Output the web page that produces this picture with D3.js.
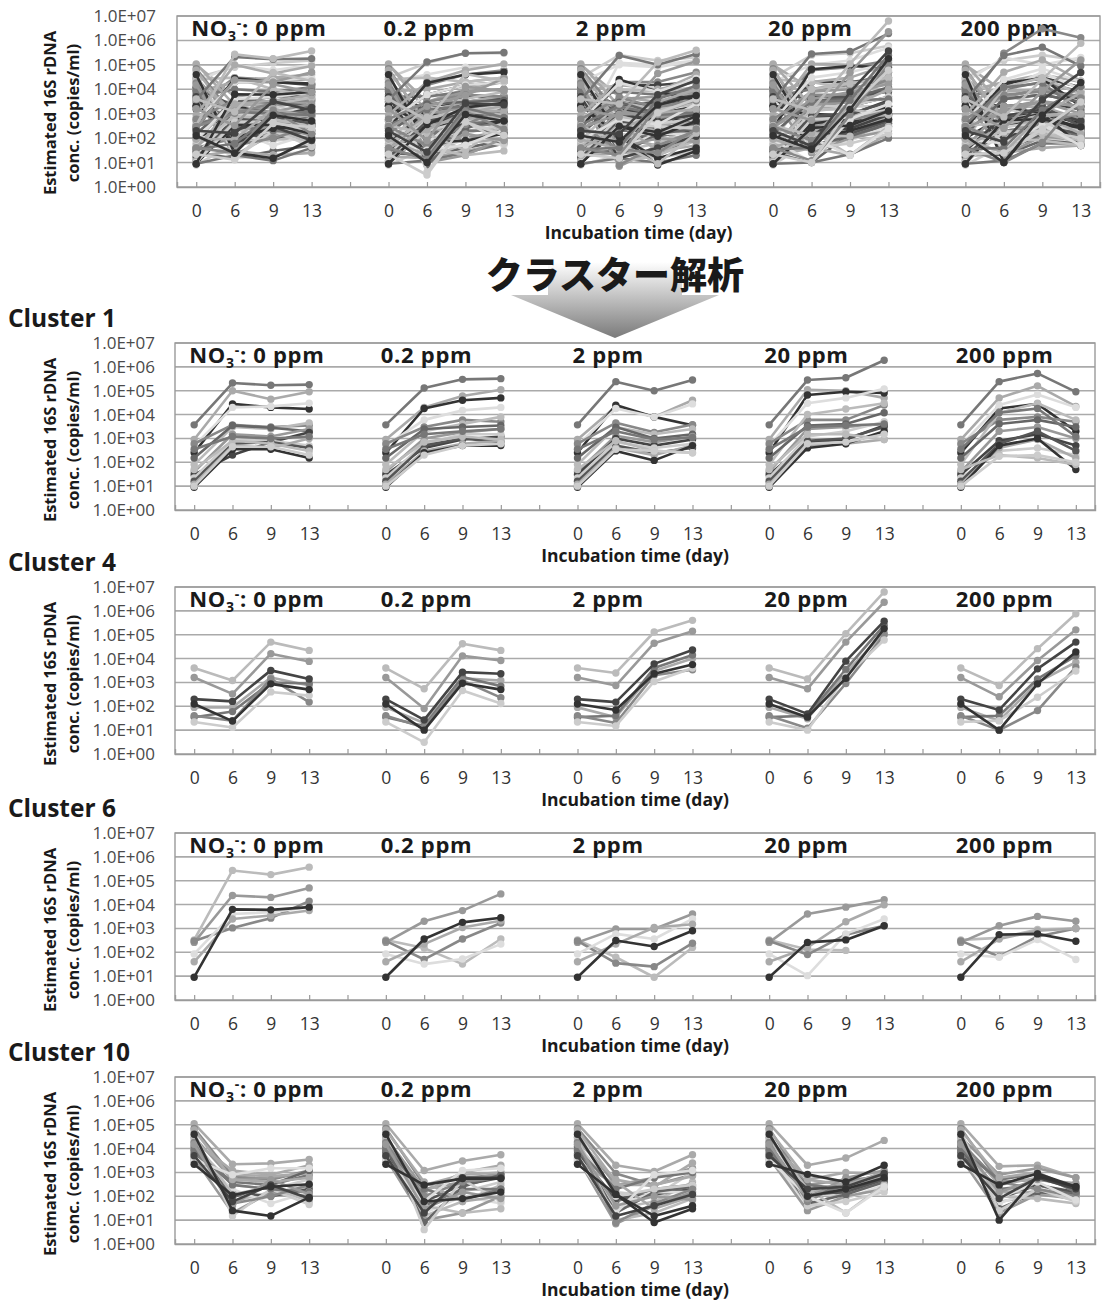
<!DOCTYPE html>
<html><head><meta charset="utf-8">
<script src="https://cdn.jsdelivr.net/npm/d3@7"></script>
<style>body{margin:0;background:#fff}svg{display:block}</style>
</head><body>
<svg id="chart" width="1102" height="1302"></svg>
<script>
// ---------- labels ----------
const groupLabels = ["0 ppm", "0.2 ppm", "2 ppm", "20 ppm", "200 ppm"];
const dayLabels = ["0", "6", "9", "13"];
const yTickValues = [1, 10, 100, 1e3, 1e4, 1e5, 1e6, 1e7];
const clusterTitles = ["Cluster 1", "Cluster 4", "Cluster 6", "Cluster 10"];
const yTitle = ["Estimated 16S rDNA", "conc. (copies/ml)"];
const xTitle = "Incubation time (day)";
const mainTitle = "クラスター解析";

// ---------- data: each row = 5 NO3 levels x days [0,6,9,13] ----------
const cluster1 = [
  [3700,2.1e5,1.7e5,1.8e5, 3700,1.3e5,3e5,3.2e5, 3700,2.4e5,1e5,2.8e5, 3700,2.8e5,3.5e5,1.9e6, 3700,2.4e5,5.3e5,9e4],
  [900,1e5,4.4e4,9e4, 900,2e4,6e4,1.1e5, 900,2.2e4,8e3,4e4, 900,1.1e5,1e5,5e4, 900,5e4,1.6e5,2.2e4],
  [250,2.8e4,2e4,1.7e4, 250,1.8e4,4e4,5e4, 250,2.5e4,8e3,3.6e3, 250,6.6e4,9e4,8e4, 250,1.8e4,2.8e4,2e3],
  [500,2e4,2.2e4,3e4, 500,6e3,1.5e4,2e4, 500,1.8e4,8e3,2.8e4, 500,3e4,5e4,1.2e5, 500,2.5e4,7e4,2e4],
  [600,3.7e3,3e3,3.5e3, 600,3e3,6e3,5e3, 600,4.5e3,1.8e3,3.8e3, 600,6e3,6e3,2.5e4, 600,6e3,8e3,5e3],
  [80,3e3,2.5e3,4.5e3, 80,2e3,4e3,8e3, 80,3e3,1.5e3,2.5e3, 80,1e4,1.7e4,3e4, 80,1.2e4,3e4,6e3],
  [150,3.5e3,2.8e3,2e3, 150,2.5e3,3e3,3.5e3, 150,3e3,1e3,1.5e3, 150,3.5e3,4e3,1.2e4, 150,4e3,6e3,3e3],
  [40,1.5e3,1.2e3,2.5e3, 40,1e3,1.8e3,2.5e3, 40,1.3e3,700,1.2e3, 40,2.5e3,3e3,4e3, 40,2e3,3e3,1e3],
  [30,200,700,1.8e3, 30,400,900,1.2e3, 30,1e3,500,900, 30,700,900,3.5e3, 30,800,1.5e3,500],
  [22,900,800,500, 22,600,1.5e3,1.5e3, 22,700,400,600, 22,1.2e3,2e3,5e3, 22,300,400,200],
  [16,600,700,400, 16,500,1e3,700, 16,500,250,400, 16,800,1e3,3e3, 16,600,2e3,300],
  [12,500,400,1e3, 12,300,600,800, 12,400,200,500, 12,500,600,900, 12,400,900,150],
  [9,350,350,150, 9,250,500,500, 9,300,120,500, 9,400,600,2e3, 9,500,1e3,50],
  [50,800,600,300, 50,700,1.2e3,900, 50,800,300,250, 50,1.5e3,1.5e3,900, 50,200,150,80],
  [350,1.2e3,1e3,1.2e3, 350,1.5e3,2e3,2.5e3, 350,2e3,900,1.1e3, 350,3e3,3.5e3,4e3, 350,1.2e4,1.8e4,1.2e3],
  [10,450,450,200, 10,200,500,600, 10,350,300,250, 10,600,700,1.5e3, 10,180,200,100]
];
const cluster1Grays = ["#777","#aaa","#333","#ddd","#888","#bbb","#666","#999","#444","#ccc","#555","#aaa","#333","#bbb","#777","#ccc"];

const cluster4 = [
  [4000,1200,4.9e4,2.2e4, 4000,540,4.2e4,2.2e4, 4000,2500,1.3e5,4e5, 4000,1400,1.1e5,6.2e6, 4000,740,2.6e4,7.6e5],
  [1600,330,1.6e4,7.6e3, 1600,80,1.3e4,8.3e3, 1600,740,4.4e4,1.4e5, 1600,540,4.9e4,2.3e6, 1600,250,8.3e3,1.6e5],
  [90,90,1.6e3,740, 90,20,1.5e3,1.2e3, 90,35,3e3,1e4, 90,30,2.5e3,1.2e5, 90,25,1e3,7e3],
  [35,60,1e3,900, 35,15,1.7e3,700, 35,40,4e3,1.4e4, 35,40,3.5e3,2.5e5, 35,40,1.4e3,1.3e4],
  [40,25,1.4e3,150, 40,13,1.2e3,230, 40,20,2e3,3.4e3, 40,12,900,1e5, 40,10,66,4.4e3],
  [22,13,400,280, 22,3.1,460,130, 22,15,1.1e3,4e3, 22,10,1.8e3,6e4, 22,25,240,3e3],
  [200,160,3.2e3,1.4e3, 200,27,2.7e3,2.3e3, 200,150,6e3,2.3e4, 200,48,7.8e3,3.7e5, 200,70,3.7e3,4.9e4],
  [125,24,870,500, 125,10,930,500, 125,70,2.3e3,5.6e3, 125,35,1.5e3,1.8e5, 125,10,870,1.9e4]
];
const cluster4Grays = ["#bbb","#999","#aaa","#777","#888","#ccc","#444","#333"];

const cluster6 = [
  [330,2.7e5,1.8e5,3.7e5, 330,150,32,360, 330,62,9,160, 330,130,120,null, 330,400,900,1e3],
  [260,2.4e4,2e4,5e4, 260,2e3,5.6e3,2.8e4, 260,950,950,4e3, 260,4e3,7.8e3,1.6e4, 260,1.3e3,3.2e3,2e3],
  [300,1050,2.7e3,1.4e4, 300,50,360,1.7e3, 300,35,25,240, 300,80,550,1.3e3, 300,67,460,1e3],
  [85,4e3,4.8e3,7.8e3, 85,32,52,220, 85,590,360,2.5e3, 85,10.5,590,2.5e3, 85,62,340,50],
  [40,2.5e3,3.5e3,5.6e3, 40,220,1.1e3,2.1e3, 40,220,1.1e3,1.5e3, 40,160,1.9e3,9.8e3, 40,360,800,1e3],
  [9,6.3e3,6e3,7.8e3, 9,360,1.8e3,2.8e3, 9,310,175,800, 9,260,330,1.3e3, 9,550,590,290]
];
const cluster6Grays = ["#bbb","#999","#888","#ddd","#aaa","#333"];

const cluster10 = [
  [1.1e5,2.2e3,2.4e3,3.5e3, 1.1e5,1.2e3,3e3,5.5e3, 1.1e5,2e3,1.1e3,5.5e3, 1.1e5,2e3,4e3,2.2e4, 1.1e5,1.8e3,2e3,600],
  [7e4,700,500,1.2e3, 7e4,300,600,800, 7e4,900,300,800, 7e4,200,300,1e3, 7e4,400,500,300],
  [3e4,500,600,1e3, 3e4,200,400,1e3, 3e4,300,600,1.5e3, 3e4,300,500,600, 3e4,800,1.5e3,600],
  [2e4,1.2e3,800,2e3, 2e4,150,1e3,2e3, 2e4,500,250,2.5e3, 2e4,500,1e3,900, 2e4,300,600,200],
  [1.5e4,300,200,500, 1.5e4,80,150,400, 1.5e4,150,100,1e3, 1.5e4,80,200,600, 1.5e4,150,300,100],
  [1e4,60,150,250, 1e4,15,60,300, 1e4,30,60,400, 1e4,40,150,400, 1e4,60,100,150],
  [8e3,400,300,800, 8e3,40,200,200, 8e3,60,200,300, 8e3,300,200,500, 8e3,200,300,120],
  [6e3,150,100,200, 6e3,60,300,600, 6e3,80,120,200, 6e3,120,150,500, 6e3,80,300,150],
  [5e3,200,50,150, 5e3,20,100,50, 5e3,40,150,150, 5e3,30,80,300, 5e3,50,200,100],
  [4e3,20,150,100, 4e3,10,20,100, 4e3,7,40,150, 4e3,25,100,200, 4e3,20,120,80],
  [3e3,800,700,900, 3e3,300,800,1e3, 3e3,300,300,700, 3e3,150,200,700, 3e3,150,150,70],
  [1.2e4,90,300,1.2e3, 1.2e4,8,250,800, 1.2e4,20,150,250, 1.2e4,50,120,400, 1.2e4,30,150,120],
  [2.5e4,120,250,60, 2.5e4,40,20,30, 2.5e4,10,20,80, 2.5e4,200,20,300, 2.5e4,100,80,50],
  [5e4,15,200,45, 5e4,4,500,60, 5e4,100,200,300, 5e4,40,60,150, 5e4,25,200,60],
  [1.8e4,50,100,300, 1.8e4,100,400,600, 1.8e4,8,50,200, 1.8e4,60,400,800, 1.8e4,400,200,100],
  [9e3,300,200,150, 9e3,200,70,200, 9e3,200,600,1e3, 9e3,100,300,900, 9e3,500,900,150],
  [6e4,500,400,600, 6e4,400,60,100, 6e4,400,30,100, 6e4,500,300,1e3, 6e4,600,1e3,200],
  [3.5e3,800,1.5e3,1.5e3, 3.5e3,60,1.2e3,1.5e3, 3.5e3,20,800,1.2e3, 3.5e3,100,20,250, 3.5e3,80,400,70],
  [1.5e4,40,500,120, 1.5e4,30,150,80, 1.5e4,40,100,70, 1.5e4,80,600,1.2e3, 1.5e4,150,500,350],
  [5e3,60,300,80, 5e3,20,600,600, 5e3,15,40,120, 5e3,200,250,900, 5e3,80,600,200],
  [4e4,25,15,90, 4e4,60,80,150, 4e4,120,15,40, 4e4,100,200,600, 4e4,10,700,250],
  [2.2e3,110,250,320, 2.2e3,300,550,550, 2.2e3,120,8,30, 2.2e3,830,400,2e3, 2.2e3,300,900,250]
];
const cluster10Grays = ["#aaa","#888","#999","#aaa","#ccc","#bbb","#777","#555","#ddd","#999","#aaa","#666","#bbb","#ccc","#888","#777","#aaa","#ddd","#999","#444","#333","#333"];

// other clusters (only in the overall panel)
const otherClusters = [
  [3e4,8e4,1.2e5,1.5e5, 3e4,1.2e5,3e5,3e5, 3e4,2.5e5,1.5e5,2e5, 3e4,2.5e5,3e5,6e5, 3e4,1.5e5,2.5e5,1.5e5],
  [2e3,3e4,2.5e4,2.5e4, 2e3,1.5e4,4e4,6e4, 2e3,2e4,2e4,5e4, 2e3,6e4,8e4,1.5e5, 2e3,3e5,3e6,1.3e6],
  [500,2e4,2e4,1.5e4, 500,6e3,1.5e4,2e4, 500,1.5e4,1.5e4,2e4, 500,2e4,2e4,3e4, 500,1.5e4,3e4,1.2e4],
  [1e5,5e3,8e3,1e4, 1e5,3e3,1e4,2e4, 1e5,5e3,3e3,8e3, 1e5,1e4,2e4,2e4, 1e5,8e3,1e4,5e3],
  [1e4,500,300,400, 1e4,400,800,1e3, 1e4,300,200,500, 1e4,500,800,1e3, 1e4,600,1.2e3,500],
  [2e4,1e5,6e4,1e5, 2e4,4e4,8e4,1e5, 2e4,1e5,8e4,1.5e5, 2e4,1e5,1.5e5,5e5, 2e4,2e5,1e5,2e5],
  [300,1e3,2e3,3e3, 300,800,2e3,3e3, 300,1e3,1.5e3,3e3, 300,2e3,3e3,1e4, 300,1.5e3,3e3,2e3],
  [100,500,400,400, 100,300,500,600, 100,500,300,300, 100,400,500,600, 100,800,1e3,400],
  [60,200,300,200, 60,100,200,300, 60,150,80,150, 60,300,400,800, 60,300,500,300],
  [5e3,1e4,8e3,1.2e4, 5e3,5e3,8e3,1e4, 5e3,8e3,6e3,1e4, 5e3,1e4,1.5e4,5e4, 5e3,1e4,2e4,8e3],
  [1.5e3,3e3,5e3,6e3, 1.5e3,2e3,5e3,5e3, 1.5e3,3e3,2e3,4e3, 1.5e3,5e3,5e3,1e4, 1.5e3,5e3,1e4,4e3],
  [8,60,80,100, 8,40,80,150, 8,20,15,30, 8,80,200,500, 8,50,100,80],
  [200,150,200,300, 200,60,100,200, 200,100,50,200, 200,50,100,400, 200,150,250,150],
  [25,15,30,50, 25,20,40,80, 25,30,20,100, 25,10,150,300, 25,20,80,60],
  [8e3,2e4,3e4,4e4, 8e3,1e4,2e4,3e4, 8e3,1.5e4,1e4,2e4, 8e3,2e4,3e4,1e5, 8e3,2e4,4e4,2e4],
  [700,200,100,80, 700,150,300,400, 700,300,150,250, 700,400,600,1e3, 700,400,600,200],
  [3e3,1e3,1e3,1.5e3, 3e3,2e3,3e3,4e3, 3e3,1.5e3,1e3,2e3, 3e3,1.5e3,2e3,5e3, 3e3,2e3,3e3,1.5e3],
  [150,15,20,30, 150,300,2e3,3e3, 150,1.2e5,1e5,1.5e5, 150,300,400,800, 150,1e4,5e4,1e4],
  [40,100,150,200, 40,200,300,400, 40,300,200,400, 40,150,300,3e3, 40,300,400,200],
  [12,300,500,800, 12,150,300,500, 12,200,200,300, 12,100,200,1e3, 12,200,300,150],
  [4e3,3e3,2e3,1e3, 4e3,1e3,2e3,1.5e3, 4e3,1e3,500,1e3, 4e3,2e3,2e3,2e3, 4e3,1.5e3,1e3,800],
  [1.2e4,2e3,3e3,4e3, 1.2e4,800,3e3,5e3, 1.2e4,2e3,3e3,6e3, 1.2e4,3e3,5e3,8e3, 1.2e4,4e3,6e3,3e3],
  [18,30,20,25, 18,15,30,60, 18,25,30,50, 18,40,20,150, 18,25,40,50],
  [2.5e4,3e4,1e4,5e3, 2.5e4,3e4,2e4,3e4, 2.5e4,1e4,8e3,1.2e4, 2.5e4,2e4,1e4,1e4, 2.5e4,5e3,3e3,2e3],
  [2e3,2e3,1e3,500, 2e3,1e3,500,400, 2e3,800,600,500, 2e3,1e3,800,1e3, 2e3,2e3,1e3,800],
  [600,3e3,5e3,8e3, 600,3e3,8e3,1e4, 600,4e3,5e3,8e3, 600,8e3,1e4,3e4, 600,5e3,1e4,5e3],
  [9,20,12,40, 9,12,25,60, 9,15,10,20, 9,10,22,100, 9,12,60,60]
];
const otherGrays = ["#ccc","#888","#444","#aaa","#666","#ddd","#999","#333","#bbb","#777","#555","#ccc","#999","#666","#aaa","#bbb","#444","#ddd","#888","#777","#ccc","#555","#aaa","#bbb","#333","#999","#777"];

// ---------- drawing ----------
const svg = d3.select("#chart");
const FONT = "'Open Sans', 'Noto Sans', sans-serif";

function toSeries(rows, grays) { return rows.map((v, i) => ({ v, c: grays[i] })); }

function drawPanel(cfg) {
  const { left, right, top, bottom, series, labelRight } = cfg;
  const g = svg.append("g");
  const x = d3.scaleLinear().domain([-0.5, 23.5]).range([left, right]);
  const y = d3.scaleLog().domain([1, 1e7]).range([bottom, top]);

  // gridlines
  g.append("g").selectAll("line").data(yTickValues.slice(1)).join("line")
    .attr("x1", left).attr("x2", right).attr("y1", d => y(d)).attr("y2", d => y(d))
    .attr("stroke", "#aaaaaa").attr("stroke-width", 1.6);
  // frame
  g.append("rect").attr("x", left).attr("y", top).attr("width", right - left).attr("height", bottom - top)
    .attr("fill", "none").attr("stroke", "#9a9a9a").attr("stroke-width", 1.4);

  // y axis
  const ya = g.append("g").attr("transform", `translate(${left},0)`)
    .call(d3.axisLeft(y).tickValues(yTickValues).tickSize(0).tickPadding(left - labelRight)
      .tickFormat(d => "1.0E+0" + Math.round(Math.log10(d))));
  ya.select(".domain").remove();
  ya.selectAll("text").attr("font-family", FONT).attr("font-size", 17).attr("fill", "#4a4a4a");

  // x axis
  const xa = g.append("g").attr("transform", `translate(0,${bottom})`)
    .call(d3.axisBottom(x).tickValues(d3.range(24)).tickSize(-5).tickPadding(18)
      .tickFormat(i => (i % 5 < 4 ? dayLabels[i % 5] : "")));
  xa.select(".domain").attr("stroke", "#9a9a9a").attr("stroke-width", 1.4);
  xa.selectAll(".tick line").attr("stroke", "#9a9a9a").attr("stroke-width", 1.2);
  xa.selectAll("text").attr("font-family", FONT).attr("font-size", 17.5).attr("fill", "#333");

  // group labels
  groupLabels.forEach((lab, gi) => {
    const t = g.append("text").attr("x", x(gi * 5) - 5).attr("y", top + 20)
      .attr("font-family", FONT).attr("font-weight", 700).attr("font-size", 22)
      .attr("letter-spacing", 0.7).attr("fill", "#1a1a1a");
    if (gi === 0) {
      t.append("tspan").text("NO");
      t.append("tspan").attr("dy", 5).attr("font-size", 14).text("3");
      t.append("tspan").attr("dy", -13).attr("font-size", 14).text("-");
      t.append("tspan").attr("dy", 8).text(": " + lab);
    } else t.text(lab);
  });

  // series
  const line = d3.line().defined(d => d.v != null).x(d => x(d.i)).y(d => y(d.v));
  const sg = g.append("g");
  series.forEach(s => {
    for (let gi = 0; gi < 5; gi++) {
      const pts = [0, 1, 2, 3].map(k => ({ i: gi * 5 + k, v: s.v[gi * 4 + k] }));
      sg.append("path").attr("d", line(pts)).attr("fill", "none")
        .attr("stroke", s.c).attr("stroke-width", 2.6).attr("stroke-linejoin", "round");
      sg.selectAll(null).data(pts.filter(p => p.v != null)).join("circle")
        .attr("cx", p => x(p.i)).attr("cy", p => y(p.v)).attr("r", 3.7).attr("fill", s.c);
    }
  });

  // x title
  g.append("text").attr("x", (x(10) + x(13)) / 2).attr("y", bottom + 52).attr("text-anchor", "middle")
    .attr("font-family", FONT).attr("font-weight", 700).attr("font-size", 17.5).attr("fill", "#1a1a1a").text(xTitle);
  // y title
  const yt = g.append("text").attr("transform", `translate(0,${top + 97}) rotate(-90)`)
    .attr("text-anchor", "middle").attr("font-family", FONT).attr("font-weight", 700)
    .attr("font-size", 16.5).attr("fill", "#1a1a1a");
  yt.append("tspan").attr("x", 0).attr("y", 56).text(yTitle[0]);
  yt.append("tspan").attr("x", 0).attr("y", 79).text(yTitle[1]);
}

// overall panel
const allSeries = [
  ...toSeries(otherClusters, otherGrays),
  ...toSeries(cluster10, cluster10Grays),
  ...toSeries(cluster1, cluster1Grays),
  ...toSeries(cluster6, cluster6Grays),
  ...toSeries(cluster4, cluster4Grays)
];
drawPanel({ left: 177, right: 1100, top: 16, bottom: 187, labelRight: 156, series: allSeries });

// arrow + title
const defs = svg.append("defs");
const grad = defs.append("linearGradient").attr("id", "arrowGrad").attr("x1", 0).attr("y1", 0).attr("x2", 0).attr("y2", 1);
grad.append("stop").attr("offset", "0%").attr("stop-color", "#ffffff");
grad.append("stop").attr("offset", "100%").attr("stop-color", "#7a7a7a");
svg.append("path")
  .attr("d", "M548,262 L682,262 L682,295 L719,295 L615,338 L511,295 L548,295 Z")
  .attr("fill", "url(#arrowGrad)");
svg.append("text").attr("x", 615).attr("y", 289).attr("text-anchor", "middle")
  .attr("font-family", "'Noto Sans CJK JP', sans-serif").attr("font-weight", 900)
  .attr("font-size", 37).attr("fill", "#1a1a1a").text(mainTitle);

// clusters
const clusterData = [
  toSeries(cluster1, cluster1Grays),
  toSeries(cluster4, cluster4Grays),
  toSeries(cluster6, cluster6Grays),
  toSeries(cluster10, cluster10Grays)
];
const clusterTops = [343, 587, 833, 1077];
clusterData.forEach((series, ci) => {
  const top = clusterTops[ci];
  svg.append("text").attr("x", 8).attr("y", top - 16).attr("font-family", FONT).attr("font-weight", 700)
    .attr("font-size", 24.5).attr("fill", "#1a1a1a").text(clusterTitles[ci]);
  drawPanel({ left: 175, right: 1095, top, bottom: top + 167, labelRight: 155, series });
});
</script>
</body></html>
